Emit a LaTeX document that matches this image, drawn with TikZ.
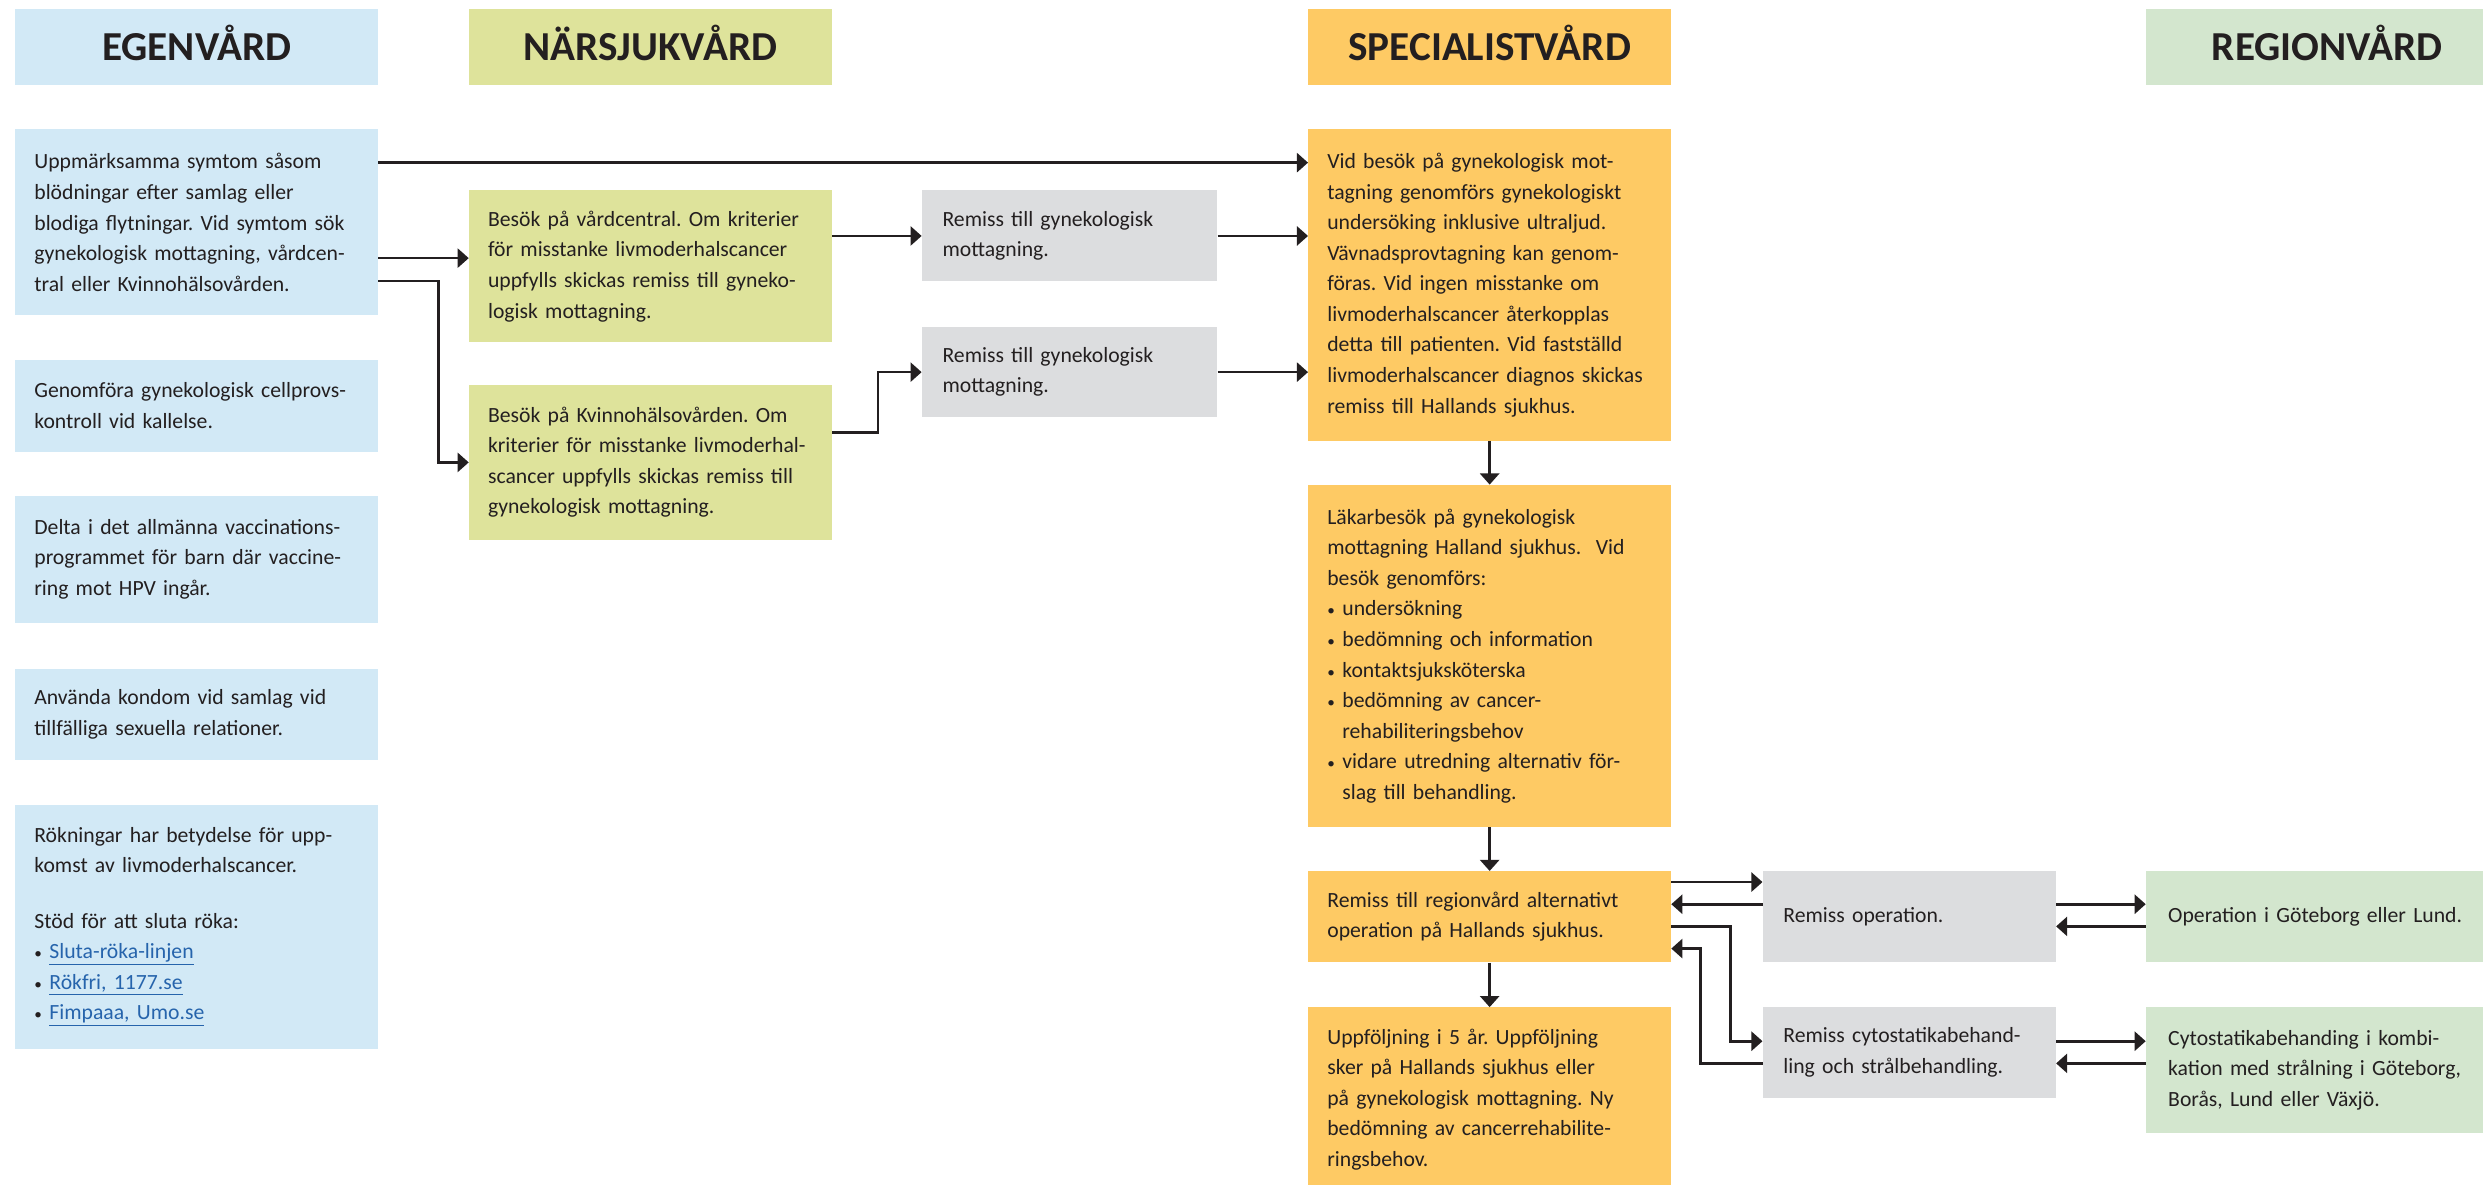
\documentclass[tikz,border=0pt]{standalone}
\usepackage{fontspec}
\setmainfont{Carlito}
\usetikzlibrary{arrows.meta}
\definecolor{txt}{HTML}{231F20}
\definecolor{cblue}{HTML}{D2E9F6}
\definecolor{cnear}{HTML}{DEE39B}
\definecolor{corange}{HTML}{FECA64}
\definecolor{cgrey}{HTML}{DCDDDF}
\definecolor{cregion}{HTML}{D3E6CE}
\definecolor{linkblue}{RGB}{38,100,172}
\newcommand{\mybul}{\makebox[9.5pt][l]{\scalebox{0.7}{\textbullet}}}
\newcommand{\lnk}[1]{\textcolor{linkblue}{\underline{#1}}}
\frenchspacing
\begin{document}
\begin{tikzpicture}[x=1pt,y=-1pt,
  head/.style={anchor=north west, inner sep=0pt, minimum width=229pt, minimum height=48pt,
    font=\fontsize{26}{30}\selectfont\bfseries, text=txt, text height=16.7pt, text depth=0pt},
  base/.style={anchor=north west, inner ysep=0pt, inner xsep=12pt, align=left, text width=205pt,
    font=\fontsize{13.7}{19.3}\selectfont\frenchspacing, text=txt},
  bluebox/.style={base, fill=cblue},
  nearbox/.style={base, fill=cnear},
  orbox/.style={base, fill=corange},
  greybox/.style={base, fill=cgrey, inner xsep=13pt, text width=160.5pt},
  regbox/.style={base, fill=cregion, inner xsep=14pt, text width=201pt},
  arr/.style={draw=txt, line width=1.7pt, -{Triangle[length=7pt,width=12pt]}}
]
\useasboundingbox (0,0) rectangle (1568,748);
\fill[white] (0,0) rectangle (1568,748);
\begin{scope}
\clip (0,0) rectangle (1568,748);
% headers
\node[head, fill=cblue] (hE) at (9.5,5.7) {EGENVÅRD};
\node[head, fill=cnear] (hN) at (296,5.7) {NÄRSJUKVÅRD};
\node[head, fill=corange] (hS) at (826,5.7) {SPECIALISTVÅRD};
\node[head, fill=cregion] (hR) at (1355,5.7) {REGIONVÅRD};
% egenvard
\node[bluebox, minimum height=117.5pt] (b1) at (9.5,81.5) {Uppmärksamma symtom såsom\\blödningar efter samlag eller\\blodiga flytningar. Vid symtom sök\\gynekologisk mottagning, vårdcen-\\tral eller Kvinnohälsovården.};
\node[bluebox, minimum height=58pt] (b2) at (9.5,227) {Genomföra gynekologisk cellprovs-\\kontroll vid kallelse.};
\node[bluebox, minimum height=80pt] (b3) at (9.5,313) {Delta i det allmänna vaccinations-\\programmet för barn där vaccine-\\ring mot HPV ingår.};
\node[bluebox, minimum height=58pt] (b4) at (9.5,422) {Använda kondom vid samlag vid\\tillfälliga sexuella relationer.};
\node[bluebox, minimum height=154pt] (b5) at (9.5,508) {Rökningar har betydelse för upp-\\komst av livmoderhalscancer.\\[15.7pt]Stöd för att sluta röka:\\\mybul\lnk{Sluta-röka-linjen}\\\mybul\lnk{Rökfri, 1177.se}\\\mybul\lnk{Fimpaaa, Umo.se}};
% narsjukvard
\node[nearbox, minimum height=96pt] (g1) at (296,120) {Besök på vårdcentral. Om kriterier\\för misstanke livmoderhalscancer\\uppfylls skickas remiss till gyneko-\\logisk mottagning.};
\node[nearbox, minimum height=97.5pt] (g2) at (296,243) {Besök på Kvinnohälsovården. Om\\kriterier för misstanke livmoderhal-\\scancer uppfylls skickas remiss till\\gynekologisk mottagning.};
% grey remiss
\node[greybox, minimum height=57.5pt] (r1) at (582,120) {Remiss till gynekologisk\\mottagning.};
\node[greybox, minimum height=57pt] (r2) at (582,206) {Remiss till gynekologisk\\mottagning.};
\node[greybox, minimum height=57.5pt, text width=159pt] (r3) at (1113,550) {Remiss operation.};
\node[greybox, minimum height=57pt, text width=159pt] (r4) at (1113,636) {Remiss cytostatikabehand-\\ling och strålbehandling.};
% specialistvard
\node[orbox, minimum height=196.5pt] (o1) at (826,81.5) {Vid besök på gynekologisk mot-\\tagning genomförs gynekologiskt\\undersöking inklusive ultraljud.\\Vävnadsprovtagning kan genom-\\föras. Vid ingen misstanke om\\livmoderhalscancer återkopplas\\detta till patienten. Vid fastställd\\livmoderhalscancer diagnos skickas\\remiss till Hallands sjukhus.};
\node[orbox, minimum height=216pt] (o2) at (826,306) {Läkarbesök på gynekologisk\\mottagning Halland sjukhus.\ \ Vid\\besök genomförs:\\\mybul undersökning\\\mybul bedömning och information\\\mybul kontaktsjuksköterska\\\mybul bedömning av cancer-\\\hspace*{9.5pt}rehabiliteringsbehov\\\mybul vidare utredning alternativ för-\\\hspace*{9.5pt}slag till behandling.};
\node[orbox, minimum height=57.5pt] (o3) at (826,550) {Remiss till regionvård alternativt\\operation på Hallands sjukhus.};
\node[orbox, minimum height=116pt] (o4) at (826,636) {Uppföljning i 5 år. Uppföljning\\sker på Hallands sjukhus eller\\på gynekologisk mottagning. Ny\\bedömning av cancerrehabilite-\\ringsbehov.};
% regionvard
\node[regbox, minimum height=57.5pt] (e3) at (1355,550) {Operation i Göteborg eller Lund.};
\node[regbox, minimum height=79pt] (e4) at (1355,636) {Cytostatikabehanding i kombi-\\kation med strålning i Göteborg,\\Borås, Lund eller Växjö.};
\end{scope}
% connectors
\coordinate (a1) at ([yshift=-21.2pt]b1.north east);
\coordinate (a2) at ([yshift=-81.5pt]b1.north east);
\coordinate (a3) at ([yshift=-96pt]b1.north east);
\coordinate (a3e) at ([yshift=-49pt]g2.north west);
\draw[arr] (a1) -- (a1 -| o1.west);
\draw[arr] (a2) -- (a2 -| g1.west);
\draw[arr] (a3) -- ++(38.1,0) |- (a3e);
\coordinate (c1) at ([yshift=-29pt]g1.north east);
\coordinate (c2) at ([yshift=-29pt]r1.north east);
\coordinate (c3) at ([yshift=-30pt]g2.north east);
\coordinate (c3e) at ([yshift=-29pt]r2.north west);
\coordinate (c4) at ([yshift=-29pt]r2.north east);
\draw[arr] (c1) -- (c1 -| r1.west);
\draw[arr] (c2) -- (c2 -| o1.west);
\draw[arr] (c3) -- ++(29,0) |- (c3e);
\draw[arr] (c4) -- (c4 -| o1.west);
\draw[arr] (o1.south) -- (o2.north);
\draw[arr] (o2.south) -- (o3.north);
\draw[arr] (o3.south) -- (o4.north);
\coordinate (d1) at ([yshift=-7pt]o3.north east);
\coordinate (d2) at ([yshift=-21pt]r3.north west);
\coordinate (d3) at ([yshift=-21pt]r3.north east);
\coordinate (d4) at ([yshift=-35pt]e3.north west);
\coordinate (d5) at ([yshift=-35pt]o3.north east);
\coordinate (d5e) at ([yshift=-21.5pt]r4.north west);
\coordinate (d6) at ([yshift=-35.5pt]r4.north west);
\coordinate (d6e) at ([yshift=-49pt]o3.north east);
\coordinate (d7) at ([yshift=-21.5pt]r4.north east);
\coordinate (d8) at ([yshift=-35.5pt]e4.north west);
\draw[arr] (d1) -- (d1 -| r3.west);
\draw[arr] (d2) -- (d2 -| o3.east);
\draw[arr] (d3) -- (d3 -| e3.west);
\draw[arr] (d4) -- (d4 -| r3.east);
\draw[arr] (d5) -- ++(37.5,0) |- (d5e);
\draw[arr] (d6) -- ++(-39,0) |- (d6e);
\draw[arr] (d7) -- (d7 -| e4.west);
\draw[arr] (d8) -- (d8 -| r4.east);
\end{tikzpicture}
\end{document}
